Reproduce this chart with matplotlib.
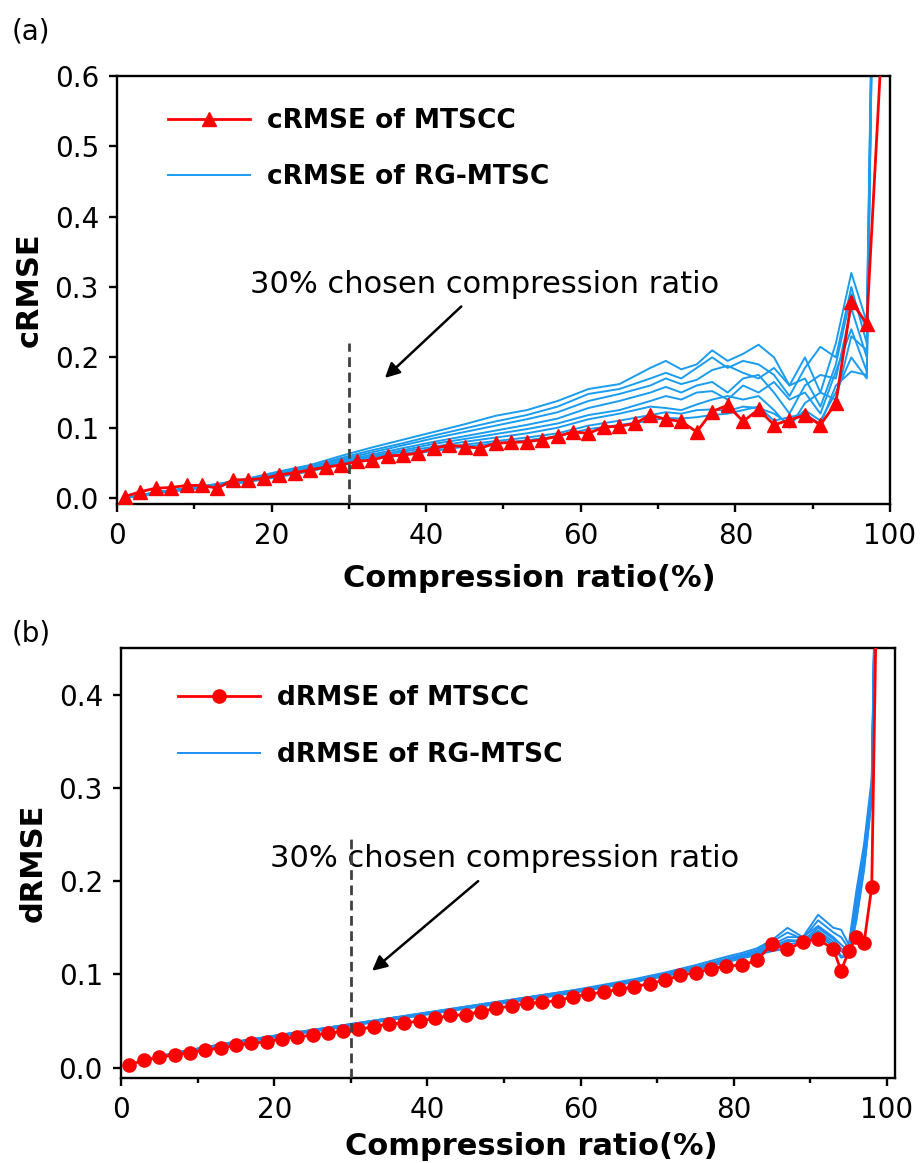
import matplotlib
matplotlib.use('Agg')
import matplotlib.pyplot as plt
import numpy as np

plt.rcParams['font.family'] = ['DejaVu Sans']

# ---- (a) cRMSE ----
c_x_mtscc = list(range(1, 98, 2)) + [99]
c_mtscc = [0.002, 0.009, 0.014, 0.015, 0.018, 0.018, 0.014, 0.026, 0.026, 0.028,
           0.033, 0.036, 0.040, 0.044, 0.047, 0.052, 0.054, 0.060, 0.061, 0.064,
           0.071, 0.075, 0.073, 0.071, 0.078, 0.079, 0.080, 0.083, 0.088, 0.094,
           0.092, 0.101, 0.102, 0.106, 0.118, 0.112, 0.109, 0.094, 0.123, 0.132,
           0.109, 0.126, 0.104, 0.111, 0.118, 0.104, 0.135, 0.279, 0.248, 0.66]

c_x_rg = [1, 5, 9, 13, 17, 21, 25, 29, 33, 37, 41, 45, 49, 53, 57, 61, 65, 69,
          71, 73, 75, 77, 79, 81, 83, 85, 87, 89, 91, 93, 95, 97, 99]
c_rg = [
    [0, .008, .014, .020, .028, .038, .047, .060, .072, .083, .094, .105, .117, .125, .138, .155, .162, .185,
     .195, .183, .190, .210, .195, .205, .218, .200, .160, .200, .150, .220, .320, .250, 1.6],
    [0, .008, .014, .020, .027, .037, .045, .057, .068, .078, .089, .099, .109, .118, .130, .148, .155, .170,
     .178, .170, .185, .200, .185, .195, .190, .175, .145, .185, .215, .200, .300, .220, 1.6],
    [0, .008, .013, .019, .026, .035, .043, .055, .065, .075, .085, .094, .103, .112, .122, .138, .148, .160,
     .170, .162, .168, .182, .188, .178, .170, .185, .160, .170, .130, .190, .290, .240, 1.6],
    [0, .008, .013, .019, .026, .034, .042, .053, .062, .071, .080, .088, .096, .104, .113, .128, .138, .150,
     .158, .150, .160, .165, .150, .170, .175, .150, .120, .160, .175, .170, .270, .200, 1.6],
    [0, .007, .013, .018, .025, .033, .041, .051, .060, .068, .077, .084, .091, .098, .106, .118, .125, .138,
     .145, .140, .150, .152, .140, .160, .150, .165, .140, .150, .120, .180, .240, .180, 1.6],
    [0, .007, .012, .018, .024, .032, .040, .050, .058, .066, .073, .080, .086, .092, .100, .112, .120, .130,
     .128, .125, .133, .140, .145, .140, .145, .125, .100, .135, .150, .140, .230, .210, 1.6],
    [0, .007, .012, .017, .024, .031, .039, .049, .056, .063, .070, .076, .081, .086, .092, .103, .110, .118,
     .122, .120, .125, .126, .124, .130, .128, .120, .105, .125, .110, .150, .200, .170, 1.6],
    [0, .007, .012, .017, .023, .030, .038, .048, .055, .061, .067, .073, .078, .082, .088, .098, .104, .110,
     .114, .113, .115, .118, .120, .125, .130, .110, .115, .120, .105, .160, .180, .175, 1.6],
]

# ---- (b) dRMSE ----
d_x_mtscc = list(range(1, 92, 2)) + [93, 94, 95, 96, 97, 98, 99]
d_mtscc = [0.003, 0.008, 0.011, 0.014, 0.016, 0.019, 0.021, 0.024, 0.026, 0.028,
           0.031, 0.033, 0.035, 0.037, 0.039, 0.041, 0.044, 0.047, 0.048, 0.050,
           0.053, 0.056, 0.057, 0.060, 0.064, 0.066, 0.069, 0.070, 0.072, 0.076,
           0.079, 0.081, 0.084, 0.087, 0.090, 0.094, 0.099, 0.102, 0.106, 0.109,
           0.110, 0.115, 0.133, 0.127, 0.135, 0.138,
           0.127, 0.104, 0.125, 0.140, 0.134, 0.194, 0.70]

d_x_rg = [3, 7, 11, 15, 19, 23, 27, 31, 35, 39, 43, 47, 51, 55, 59, 63, 67, 71, 75, 79,
          81, 83, 85, 87, 89, 91, 93, 94, 95, 96, 97, 98, 99]
d_rg = [
    [.008, .016, .022, .028, .033, .038, .043, .048, .053, .058, .063, .068, .073, .078, .083, .089, .095, .102, .110, .119,
     .123, .128, .137, .150, .140, .164, .150, .148, .132, .190, .240, .310, 0.8],
    [.008, .016, .022, .028, .033, .038, .043, .048, .053, .058, .063, .068, .073, .078, .083, .088, .094, .101, .108, .117,
     .121, .126, .135, .145, .138, .158, .145, .140, .128, .185, .235, .305, 0.8],
    [.008, .016, .022, .027, .033, .038, .043, .048, .053, .057, .062, .067, .072, .077, .082, .088, .094, .100, .107, .116,
     .120, .125, .132, .140, .140, .152, .140, .132, .125, .175, .228, .300, 0.8],
    [.008, .015, .021, .027, .032, .037, .042, .047, .052, .057, .062, .067, .072, .077, .082, .087, .093, .100, .107, .115,
     .119, .124, .130, .137, .136, .150, .138, .128, .122, .170, .225, .298, 0.8],
    [.008, .015, .021, .027, .032, .037, .042, .047, .052, .057, .062, .066, .071, .076, .081, .087, .093, .099, .106, .114,
     .118, .123, .128, .135, .137, .147, .135, .125, .120, .165, .220, .295, 0.8],
    [.008, .015, .021, .027, .032, .037, .042, .047, .051, .056, .061, .066, .071, .076, .081, .086, .092, .099, .105, .114,
     .118, .122, .126, .132, .135, .145, .132, .120, .118, .160, .215, .290, 0.8],
    [.008, .015, .021, .026, .031, .036, .041, .046, .051, .056, .061, .066, .070, .075, .080, .086, .092, .098, .105, .113,
     .117, .121, .125, .128, .134, .142, .130, .118, .120, .158, .212, .288, 0.8],
]

blue_a = '#1a9cf0'
blue_b = '#1e8ff0'
red = '#ff0000'

fig = plt.figure(figsize=(9.21, 11.63), dpi=100)
ax1 = fig.add_axes([0.127, 0.5666, 0.8393, 0.3681])
ax2 = fig.add_axes([0.1314, 0.0731, 0.8404, 0.3697])


def style_axes(ax, xmax, ylim, yticks, label_xy):
    ax.set_xlim(0, xmax)
    ax.set_ylim(*ylim)
    ax.set_xticks([0, 20, 40, 60, 80, 100])
    ax.set_xticks([10, 30, 50, 70, 90], minor=True)
    ax.set_yticks(yticks)
    ax.set_yticklabels([f'{v:.1f}' for v in yticks])
    ax.tick_params(which='major', direction='out', length=6, width=1.7, labelsize=20, pad=7)
    ax.tick_params(which='minor', direction='out', length=3.5, width=1.7)
    for s in ax.spines.values():
        s.set_linewidth(1.7)
    xl = ax.set_xlabel('Compression ratio(%)', fontsize=22, fontweight='bold')
    xl.set_va('baseline')
    ax.xaxis.set_label_coords(*label_xy)


legend_kw = dict(loc='upper left', frameon=False, handlelength=3.1, handletextpad=0.64,
                 borderpad=0, borderaxespad=0, prop={'size': 19, 'weight': 'bold'})

# (a)
for i, ys in enumerate(c_rg):
    ax1.plot(c_x_rg, ys, color=blue_a, lw=1.4, label='cRMSE of RG-MTSC' if i == 0 else None, zorder=2)
ax1.plot(c_x_mtscc, c_mtscc, color=red, lw=2, marker='^', ms=9.5, label='cRMSE of MTSCC', zorder=3)
ax1.plot([30, 30], [-0.0085, 0.22], color='#404040', lw=2, ls=(0, (3.5, 2)), zorder=4)
ax1.annotate('', xy=(34.4, 0.168), xytext=(44.8, 0.275),
             arrowprops=dict(arrowstyle='-|>', color='black', lw=1.8, mutation_scale=22))
ax1.text(47.5, 0.292, '30% chosen compression ratio', fontsize=22, ha='center', va='baseline')
style_axes(ax1, 100, (-0.0085, 0.6), np.arange(0, 0.61, 0.1), (0.534, -0.194))
ax1.set_ylabel('cRMSE', fontsize=22, fontweight='bold', labelpad=8)
h, l = ax1.get_legend_handles_labels()
ax1.legend([h[1], h[0]], [l[1], l[0]], bbox_to_anchor=(0.066, 0.925), labelspacing=1.15, **legend_kw)
fig.text(0.013, 0.973, '(a)', fontsize=20, va='center')

# (b)
for i, ys in enumerate(d_rg):
    ax2.plot(d_x_rg, ys, color=blue_b, lw=1.4, label='dRMSE of RG-MTSC' if i == 0 else None, zorder=2)
ax2.plot(d_x_mtscc, d_mtscc, color=red, lw=2, marker='o', ms=9.5, label='dRMSE of MTSCC', zorder=3)
ax2.plot([30, 30], [-0.011, 0.25], color='#404040', lw=2, ls=(0, (3.5, 2)), zorder=4)
ax2.annotate('', xy=(32.5, 0.102), xytext=(46.9, 0.202),
             arrowprops=dict(arrowstyle='-|>', color='black', lw=1.8, mutation_scale=22))
ax2.text(50.1, 0.2155, '30% chosen compression ratio', fontsize=22, ha='center', va='baseline')
style_axes(ax2, 101.04, (-0.011, 0.45), np.arange(0, 0.41, 0.1), (0.530, -0.179))
ax2.set_ylabel('dRMSE', fontsize=22, fontweight='bold', labelpad=8)
h, l = ax2.get_legend_handles_labels()
ax2.legend([h[1], h[0]], [l[1], l[0]], bbox_to_anchor=(0.074, 0.914), labelspacing=1.19, **legend_kw)
fig.text(0.013, 0.4549, '(b)', fontsize=20, va='center')

fig.savefig('out.png', dpi=100)
